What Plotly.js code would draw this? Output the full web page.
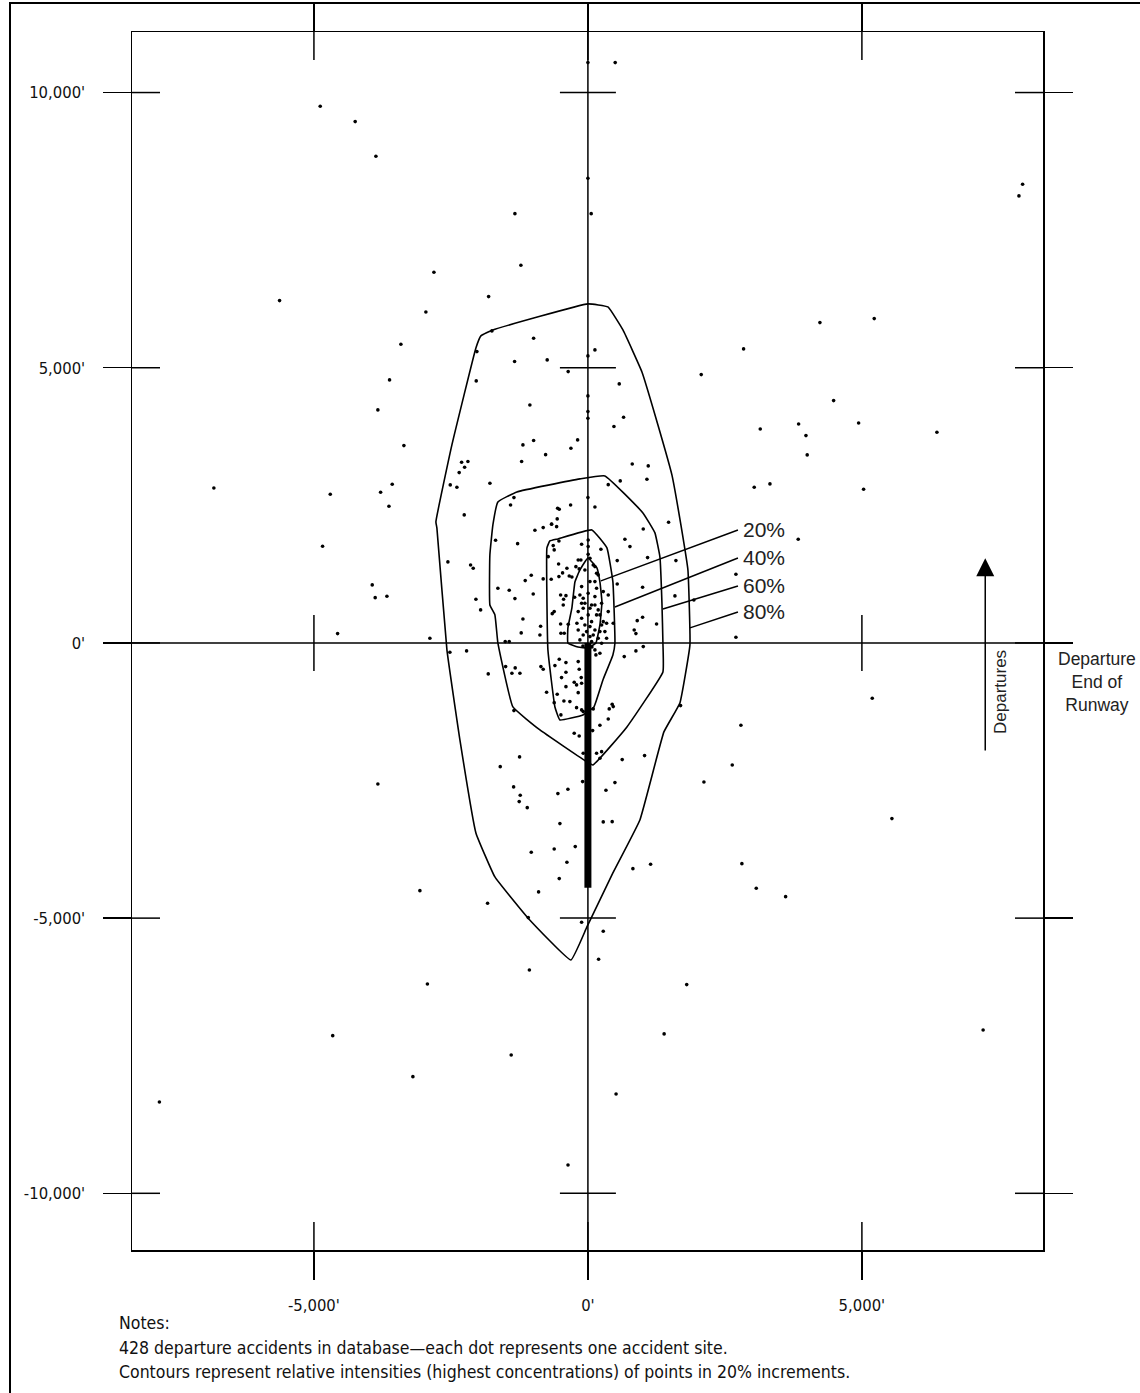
<!DOCTYPE html>
<html><head><meta charset="utf-8">
<script src="https://cdn.plot.ly/plotly-3.0.1.min.js"></script>
<style>body{margin:0;background:#fff}#chart{width:1140px;height:1393px}</style>
</head><body><div id="chart"></div>
<script>
// ---- accident sites (feet from departure end of runway) ----
const accidentX = [
-4885,-4247,-3869,-1332,-1223,-2810,-5627,-1812,-2957,0,0,60,498,7933,7866,4234,5225,
-3413,-3620,-3833,-3358,-6826,-4702,-3571,-3783,-3631,-2512,-2555,-4842,-3936,-3882,-3668,-4568,-2884,-8432,
-1752,-2026,-991,-1338,-743,-360,-2038,-1059,-1186,-991,-772,-310,-188,-1210,-2305,-2190,-2250,-2349,-2391,-1788,-2257,-1350,-1411,-553,-523,-316,-560,-663,
128,0,0,0,0,572,651,475,2068,809,1101,1077,590,371,0,128,1472,
2841,4484,3845,4940,6369,3145,3979,4002,3035,3322,5031,3838,2701,2701,
2792,2634,2117,5189,5548,2810,3072,3608,
-3833,-3066,
195,-1068,-2929,1803,-4657,1391,7212,-1400,-3194,514,-7820,-363,-3820,
-2519,-2214,-1819,-1502,-1327,-1387,-1241,-858,-816,-1350,-1247,-1600,-1356,-1235,-1254,-1107,-548,-365,-511,-1034,-615,-231,-383,-523,-900,-1831,-1089,-115,280,
329,493,280,443,821,1144,626,1034,1691,663,876,1010,371,219,443,462,389,97,158,250,219,86,-97,-86,-250,-159,146,219,128,
-523,-401,-602,-177,-159,-401,-481,-250,-207,-401,-177,-560,-754,-438,-329,-615,-207,-493,-115,-86,-115,-122,
-2141,-2093,-2044,-1958,-1685,-1643,-1436,-1332,-1283,-1186,-1217,-1509,-1436,-1144,-1034,-998,-967,-816,-663,-571,-816,-670,-863,-876,-633,-529,-615,-724,-535,-529,-462,-383,-341,-498,-401,-444,-450,-615,-651,-498,-359,-493,-432,-219,-159,-292,-243,-201,
-115,237,675,767,1010,1089,535,535,998,1606,1588,1934,900,998,845,876,1253,
5,5,5,-128,97,158,128,-115,-146,-86,-115,-86,37,128,188,250,219,280,-115,-55,37,128,219,310,-86,37,188,-146,371,371,280,341,462,
-177,37,128,-55,188,37,158,5,128,-55,67,-177,5,158,67,250,-177,-24,97,341,67,250,-91,73
];
const accidentY = [
9752,9472,8843,7800,6863,6736,6220,6292,6014,10544,8444,7800,10544,8335,8122,5820,5893,
5427,4779,4234,3585,2816,2702,2884,2738,2483,2871,1472,1757,1054,823,848,169,85,1472,
5669,5293,5536,5112,5142,4930,4761,4324,3598,3677,3421,3537,3689,3295,3283,3295,3192,3095,2829,2902,2326,2640,2507,2447,2429,2507,2253,2162,
5324,5215,4488,4203,4082,4706,4101,3931,4875,3252,3216,2974,2944,2876,2640,2471,2193,
5342,4403,3979,3997,3828,3888,3767,3416,2829,2889,2792,1884,1248,104,
-1495,-2217,-2526,-1005,-3192,-4010,-4457,-4610,
-2562,-4501,
-5747,-5942,-6196,-6208,-7135,-7104,-7032,-7486,-7880,-8195,-8340,-9485,-11362,
-169,-145,-563,-430,-454,-551,-551,-430,-478,-1230,-2071,-2248,-2616,-2767,-2883,-2993,-2738,-2659,-3283,-3803,-3743,-3701,-3985,-4282,-4524,-4730,-4991,-5075,-5239,
-2677,-2538,-3252,-3247,-4101,-4021,-2120,-2047,-1139,-248,-145,-67,-1381,-1495,-1114,-1157,-1199,-1199,-2004,-1975,-2095,-1593,-2520,-2004,-1641,-1690,-218,-187,-127,
-296,-357,-412,-339,-478,-533,-630,-714,-763,-794,-903,-932,-896,-1054,-1066,-1085,-1176,-1308,-1217,-1248,-732,-630,
1417,1357,794,600,1866,994,958,805,1804,436,182,24,24,1132,1230,890,2048,2095,2157,2113,1163,1157,303,145,1768,1853,1690,1568,1435,1205,1272,1357,1217,872,859,794,690,569,532,345,340,176,176,1386,1345,1199,830,358,
1793,1702,1884,1750,2071,1550,1496,1072,1012,1496,854,781,405,467,236,169,345,
1871,1750,1611,1508,1417,1266,1114,1023,872,812,721,630,630,690,600,721,509,387,448,327,297,236,206,206,145,115,85,55,569,872,933,357,357,
1508,1539,1387,1326,1236,1114,993,903,842,721,690,569,509,509,387,327,236,206,145,85,24,-5,-55,-73
];

// ---- contours (relative intensity envelopes) ----
const contour80X = [-310,-1095,-1697,-2044,-2336,-2573,-2756,-2774,-2482,-2044,-1953,-1734,0,365,639,986,1278,1533,1697,1825,1862,1679,1387,949,456,-18,-310];
const contour80Y = [-5760,-4997,-4252,-3452,-1762,-127,2090,2199,3598,5360,5578,5687,6160,6105,5687,4924,3961,3053,2144,1326,-36,-1090,-1617,-3216,-4179,-5160,-5760];
const contour60X = [-1734,-1643,-1296,-146,310,1004,1223,1314,1351,1369,1369,712,91,-73,-876,-1369,-1643,-1697,-1789,-1789,-1734];
const contour60Y = [2144,2562,2744,2980,3034,2362,1999,1563,727,0,-527,-1526,-2217,-2126,-1581,-1163,0,509,690,1599,2144];
const contour40X = [-748,-694,-548,73,347,456,493,456,274,110,-91,-511,-602,-730,-748];
const contour40Y = [1726,1853,1890,2053,1726,1108,0,-218,-672,-1163,-1308,-1399,-1163,-127,1726];
const contour20X = [0,164,219,256,219,146,0,-183,-365,-365,-292,-237,-146,0];
const contour20Y = [1544,1363,1108,745,327,0,-91,-73,0,273,636,1108,1326,1544];

const contourLabels = ['20%','40%','60%','80%'];
const leaderStartX = [237,493,1369,1862];
const leaderStartY = [1127,654,618,273];
const leaderEndX = [2738,2738,2738,2738];
const leaderEndY = [2053,1544,1036,563];

const runwayX = [0,0];
const runwayY = [0,-4450];
const arrowX = 7251, arrowTailY = -1981, arrowTipY = 1539;

const xTickVals = [-5000,0,5000];
const xTickText = ["-5,000'","0'","5,000'"];
const yTickVals = [-10000,-5000,0,5000,10000];
const yTickText = ["-10,000'","-5,000'","0'","5,000'","10,000'"];
const xRange = [-8320,8305];
const yRange = [-11030,11100];

const notes = ["Notes:",
 "428 departure accidents in database\u2014each dot represents one accident site.",
 "Contours represent relative intensities (highest concentrations) of points in 20% increments."];

// ---- geometry helpers ----
const W = 1140, H = 1393, M = {l:132, r:97, t:32, b:143};
const pw = W - M.l - M.r, ph = H - M.t - M.b;
const TL = 28; // tick half-length in px
const txp = TL/pw, typ = TL/ph;
const px2x = v => (v - xRange[0])/(xRange[1]-xRange[0]);
const py2y = v => (v - yRange[0])/(yRange[1]-yRange[0]);
const LW = 1.5;
const line = {color:'#000', width:LW};
const SANS = 'Liberation Sans, Arial, sans-serif';
const NARROW = 'Liberation Sans Narrow, Arial Narrow, DejaVu Sans Condensed, sans-serif';

const shapes = [];
// inside halves of border ticks (outside halves come from axis ticks)
xTickVals.forEach(v => {
  shapes.push({type:'line', xref:'x', yref:'paper', x0:v, x1:v, y0:0, y1:typ, line});
  shapes.push({type:'line', xref:'x', yref:'paper', x0:v, x1:v, y0:1-typ, y1:1, line});
});
yTickVals.forEach(v => {
  shapes.push({type:'line', xref:'paper', yref:'y', y0:v, y1:v, x0:0, x1:txp, line});
  shapes.push({type:'line', xref:'paper', yref:'y', y0:v, y1:v, x0:1-txp, x1:1, line});
});
// crosses along the centre lines
const y0p = py2y(0), x0p = px2x(0);
xTickVals.filter(v => v !== 0).forEach(v => {
  shapes.push({type:'line', xref:'x', yref:'paper', x0:v, x1:v, y0:y0p-typ, y1:y0p+typ, line});
});
yTickVals.filter(v => v !== 0).forEach(v => {
  shapes.push({type:'line', xref:'paper', yref:'y', y0:v, y1:v, x0:x0p-txp, x1:x0p+txp, line});
});
// centre lines extended past the frame
shapes.push({type:'line', xref:'x', yref:'paper', x0:0, x1:0, y0:-typ, y1:1+typ, line});
shapes.push({type:'line', xref:'paper', yref:'y', y0:0, y1:0, x0:-txp, x1:1+txp, line});
// page frame
shapes.push({type:'rect', xref:'paper', yref:'paper', x0:(10-M.l)/pw, x1:(1150-M.l)/pw,
  y0:(H-M.b-1400)/ph, y1:(H-M.b-3)/ph, line:{color:'#000', width:2}});

const traces = [];
[[contour80X,contour80Y],[contour60X,contour60Y],[contour40X,contour40Y],[contour20X,contour20Y]].forEach(c => {
  traces.push({x:c[0], y:c[1], mode:'lines', line:{color:'#000', width:1.6, shape:'spline', smoothing:0.3}, hoverinfo:'skip'});
});
// leader lines
const lx = [], ly = [];
leaderStartX.forEach((v,i) => { lx.push(v, leaderEndX[i], null); ly.push(leaderStartY[i], leaderEndY[i], null); });
traces.push({x:lx, y:ly, mode:'lines', line:{color:'#000', width:1.5}, hoverinfo:'skip'});
// runway
traces.push({x:runwayX, y:runwayY, mode:'lines', line:{color:'#000', width:7}, hoverinfo:'skip'});
// accident sites
traces.push({x:accidentX, y:accidentY, mode:'markers', cliponaxis:false,
  marker:{color:'#000', size:3.6}, hoverinfo:'x+y'});

const annotations = [];
contourLabels.forEach((t,i) => annotations.push({x:leaderEndX[i], y:leaderEndY[i], xref:'x', yref:'y',
  text:t, showarrow:false, xanchor:'left', xshift:3, font:{size:21, color:'#222', family:SANS}}));
annotations.push({x:arrowX, y:arrowTipY, ax:arrowX, ay:arrowTailY, axref:'x', ayref:'y', xref:'x', yref:'y',
  text:'', showarrow:true, arrowhead:2, arrowsize:2.4, arrowwidth:1.5, arrowcolor:'#000'});
annotations.push({x:(1000-M.l)/pw, y:(H-M.b-692)/ph, xref:'paper', yref:'paper', text:'Departures', textangle:-90,
  xanchor:'center', yanchor:'middle', showarrow:false, font:{size:17, color:'#222', family:SANS}});
annotations.push({x:(1097-M.l)/pw, y:(H-M.b-682)/ph, xref:'paper', yref:'paper', text:'Departure<br>End of<br>Runway',
  xanchor:'center', yanchor:'middle', showarrow:false, align:'center', font:{size:17.5, color:'#222', family:SANS}});
const noteY = [1323,1348,1372];
notes.forEach((t,i) => annotations.push({x:(117-M.l)/pw, y:(H-M.b-noteY[i])/ph, xref:'paper', yref:'paper',
  text:t, showarrow:false, xanchor:'left', yanchor:'middle', font:{size:17.5, color:'#111', family:NARROW}}));

const axisCommon = {showgrid:false, zeroline:false, showline:true, linecolor:'#000', linewidth:LW, mirror:'allticks',
  ticks:'outside', ticklen:TL, tickwidth:LW, tickcolor:'#000',
  tickfont:{size:16.5, color:'#111', family:NARROW}, fixedrange:true};

const layout = {
  width:W, height:H, margin:M, showlegend:false,
  paper_bgcolor:'#fff', plot_bgcolor:'#fff',
  xaxis:Object.assign({}, axisCommon, {range:xRange, tickmode:'array', tickvals:xTickVals, ticktext:xTickText, ticklabelstandoff:12}),
  yaxis:Object.assign({}, axisCommon, {range:yRange, tickmode:'array', tickvals:yTickVals, ticktext:yTickText, ticklabelstandoff:14}),
  shapes, annotations
};
Plotly.newPlot('chart', traces, layout, {displayModeBar:false, staticPlot:true});
</script></body></html>
